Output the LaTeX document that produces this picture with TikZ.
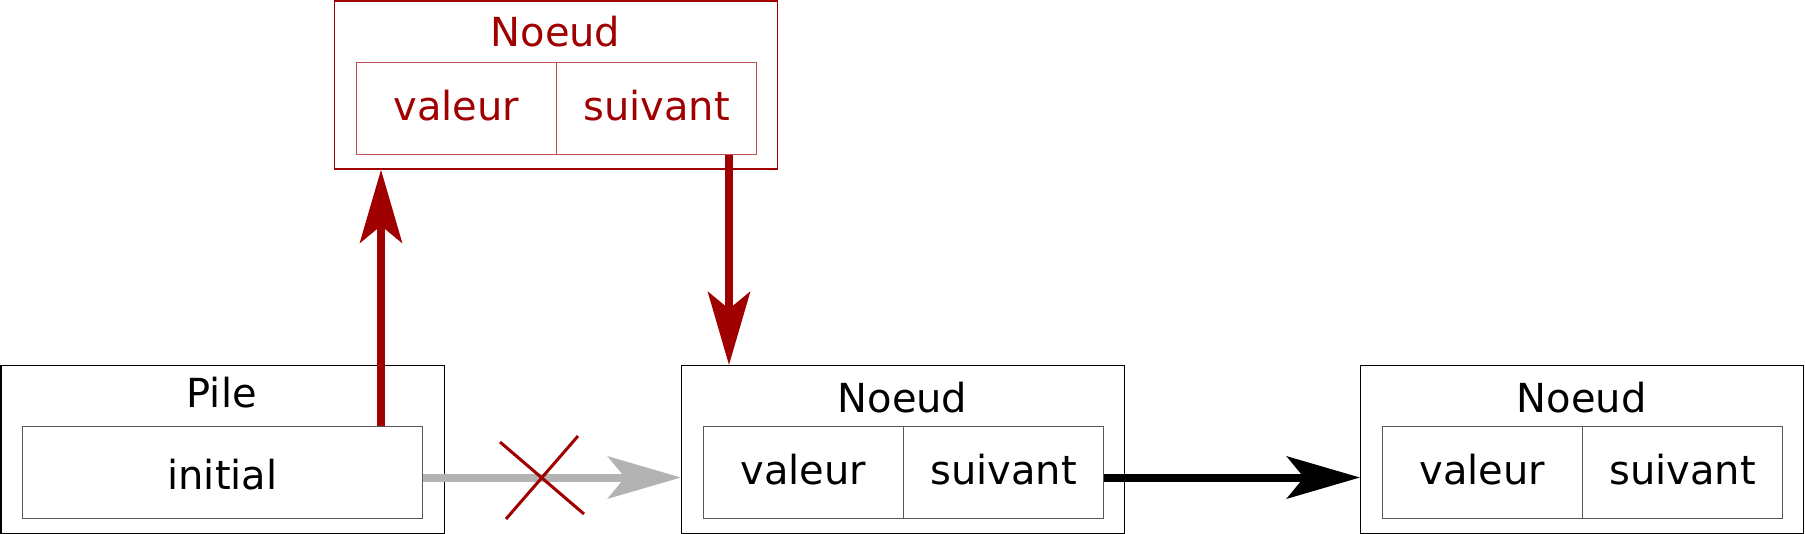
\documentclass[tikz,border=0pt]{standalone}
\usepackage{fontspec}
\setmainfont{DejaVu Sans}
\usetikzlibrary{arrows.meta,calc}
\definecolor{dred}{RGB}{160,0,0}
\definecolor{lred}{RGB}{190,80,80}
\definecolor{lgrey}{RGB}{179,179,179}
\tikzset{
  outerbox/.style={draw, line width=0.6pt, minimum width=221.5pt, minimum height=84pt, inner sep=0pt, anchor=north west},
  cellbox/.style={draw=black!65, line width=0.5pt, minimum width=100pt, minimum height=46pt, inner sep=0pt, anchor=north west,
     text height=12pt, text depth=0pt, font=\fontsize{20}{24}\selectfont},
  titlelbl/.style={anchor=base, inner sep=0pt, font=\fontsize{20}{24}\selectfont},
  arr/.style={line width=4pt, -{Stealth[length=36.5pt,width=21pt,inset=8.5pt]}},
  crossline/.style={dred, line width=1.5pt},
}
\begin{document}
\begin{tikzpicture}[x=0.5pt,y=-0.5pt]
\useasboundingbox (0,0) rectangle (1805,534);

% Pile
\node[outerbox] (pile) at (0.5,365) {};
\node[titlelbl] (piletitle) at (221.75,408) {Pile};
\node[cellbox, minimum width=200pt, text height=17pt] (init) at (22,426) {initial};

% middle Noeud
\node[outerbox] (mid) at (681,365) {};
\node[titlelbl] (midtitle) at (902.5,412) {Noeud};
\node[cellbox] (mval) at (703,426) {valeur};
\node[cellbox] (msuiv) at (903,426) {suivant};

% right Noeud
\node[outerbox] (rgt) at (1360,365) {};
\node[titlelbl] (rgttitle) at (1581.5,412) {Noeud};
\node[cellbox] (rval) at (1382,426) {valeur};
\node[cellbox] (rsuiv) at (1582,426) {suivant};

% top Noeud (red)
\node[outerbox, draw=dred] (top) at (334,0.5) {};
\node[titlelbl, text=dred] (toptitle) at (555.5,47) {Noeud};
\node[cellbox, draw=lred, text=dred] (tval) at (356,62) {valeur};
\node[cellbox, draw=lred, text=dred] (tsuiv) at (556,62) {suivant};

% connectors
\draw[arr, lgrey] ([yshift=-2.5pt]init.east) -- ([yshift=-2.5pt]init.east -| mid.west);
\coordinate (cx) at (542,477);
\draw[crossline] ($(cx)+(-42,-35)$) -- ($(cx)+(42,37)$);
\draw[crossline] ($(cx)+(36,-41)$) -- ($(cx)+(-36,42)$);
\draw[arr, black] ([yshift=-2.5pt]msuiv.east) -- ([yshift=-2.5pt]msuiv.east -| rgt.west);
\draw[arr, dred] ([xshift=-21pt]init.north east) -- ([xshift=-21pt]init.north east |- top.south);
\draw[arr, dred] ([xshift=-14pt]tsuiv.south east) -- ([xshift=-14pt]tsuiv.south east |- mid.north);
\end{tikzpicture}
\end{document}
